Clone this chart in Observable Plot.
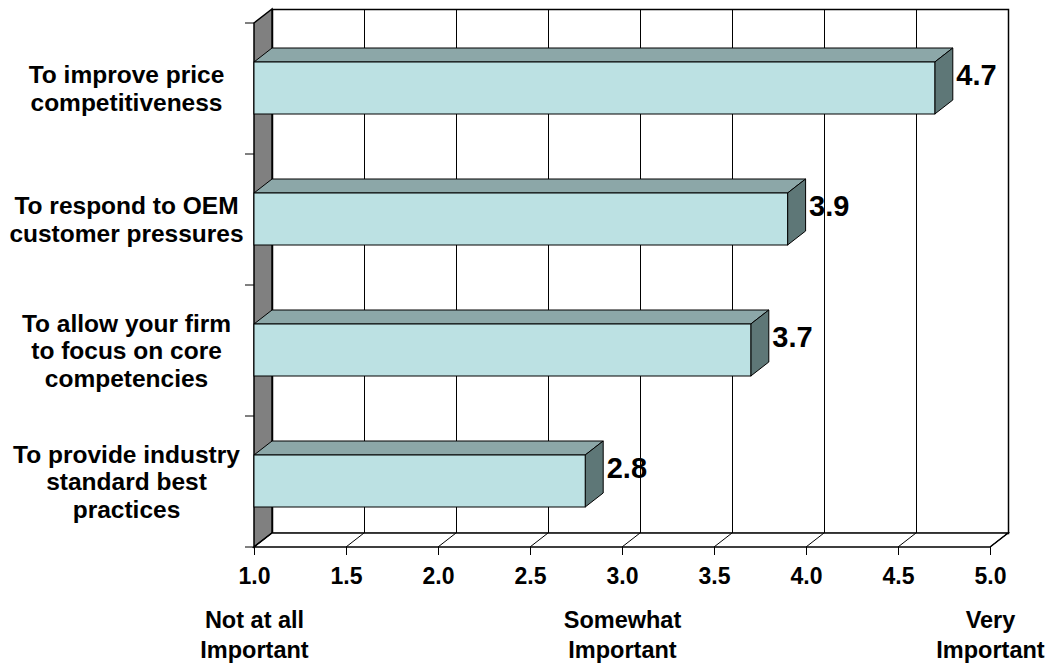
<!DOCTYPE html>
<html><head><meta charset="utf-8">
<script src="https://cdn.jsdelivr.net/npm/d3@7"></script>
<script src="https://cdn.jsdelivr.net/npm/@observablehq/plot@0.6"></script>
<style>
html,body{margin:0;padding:0;background:#fff;}
#chart svg{display:block;}
</style></head>
<body><div id="chart"></div>
<script>
// ---- data ----
const categories = [
  "To improve price\ncompetitiveness",
  "To respond to OEM\ncustomer pressures",
  "To allow your firm\nto focus on core\ncompetencies",
  "To provide industry\nstandard best\npractices"
];
const values = [4.7, 3.9, 3.7, 2.8];
const xTicks = [1.0, 1.5, 2.0, 2.5, 3.0, 3.5, 4.0, 4.5, 5.0];
const scaleAnchors = [1, 3, 5];
const scaleAnchorLabels = ["Not at all\nImportant", "Somewhat\nImportant", "Very\nImportant"];

// ---- style ----
const BASE = 1;
const DX = 18, DY = -14;           // 3-D depth offset
const FONT = '"Liberation Sans", Arial, Helvetica, sans-serif';
const FRONT = "#bce1e3", TOP = "#8ca7a8", SIDE = "#5e7777", WALL = "#808080";

const data = categories.map((c, i) => ({cat: c, value: values[i]}));

// left wall, floor, floor diagonals and y tick marks
function wallAndFloor(index, scales, vals, dim) {
  const {height, marginTop, marginBottom} = dim;
  const x0 = scales.x(xTicks[0]), x1 = scales.x(xTicks[xTicks.length - 1]);
  const yTop = marginTop, yBot = height - marginBottom;
  const g = d3.create("svg:g");
  g.append("path")
    .attr("d", `M${x0},${yTop}L${x0 + DX},${yTop + DY}L${x0 + DX},${yBot + DY}L${x0},${yBot}Z`)
    .attr("fill", WALL).attr("stroke", "#000").attr("stroke-width", 1.5);
  g.append("path")
    .attr("d", `M${x0},${yBot}L${x0 + DX},${yBot + DY}L${x1 + DX},${yBot + DY}L${x1},${yBot}Z`)
    .attr("fill", "#fff").attr("stroke", "#000").attr("stroke-width", 1.5);
  for (const t of xTicks) {
    const x = scales.x(t);
    g.append("line").attr("x1", x).attr("y1", yBot).attr("x2", x + DX).attr("y2", yBot + DY)
      .attr("stroke", "#000").attr("stroke-width", 1);
  }
  const n = categories.length;
  for (let k = 0; k <= n; k++) {
    const y = yTop + (yBot - yTop) * k / n;
    g.append("line").attr("x1", x0 - 9).attr("x2", x0).attr("y1", y).attr("y2", y)
      .attr("stroke", "#000").attr("stroke-width", 1);
  }
  return g.node();
}

// top and side faces of each bar
function barDepth(index, scales, vals, dim) {
  const g = d3.create("svg:g");
  const bw = scales.y.bandwidth();
  for (const d of data) {
    const xa = scales.x(BASE), xb = scales.x(d.value);
    const ya = scales.y(d.cat), yb = ya + bw;
    g.append("path")
      .attr("d", `M${xa},${ya}L${xa + DX},${ya + DY}L${xb + DX},${ya + DY}L${xb},${ya}Z`)
      .attr("fill", TOP).attr("stroke", "#000").attr("stroke-width", 1).attr("stroke-linejoin", "round");
    g.append("path")
      .attr("d", `M${xb},${ya}L${xb + DX},${ya + DY}L${xb + DX},${yb + DY}L${xb},${yb}Z`)
      .attr("fill", SIDE).attr("stroke", "#000").attr("stroke-width", 1).attr("stroke-linejoin", "round");
  }
  return g.node();
}

const chart = Plot.plot({
  width: 1050,
  height: 664,
  marginTop: 23,
  marginBottom: 117,
  marginLeft: 254,
  marginRight: 60,
  style: {fontFamily: FONT, color: "#000", background: "#fff", fontWeight: "bold", fontSize: "23px", overflow: "visible"},
  x: {domain: [1, 5], ticks: xTicks, tickFormat: d3.format(".1f"), tickSize: 8, tickPadding: 12, label: null},
  y: {domain: categories, paddingInner: 0.603, paddingOuter: 0.3015, axis: null, label: null},
  marks: [
    Plot.frame({dx: DX, dy: DY, stroke: "#000", strokeWidth: 1.5, fill: "#fff"}),
    Plot.ruleX(xTicks, {x: d => d, dx: DX, dy: DY, stroke: "#000", strokeWidth: 1}),
    wallAndFloor,
    barDepth,
    Plot.barX(data, {x1: () => BASE, x2: "value", y: "cat", fill: FRONT, stroke: "#000", strokeWidth: 1}),
    Plot.text(data, {x: "value", y: "cat", text: d => d.value.toFixed(1), textAnchor: "start",
      dx: DX + 3, dy: DY + 1, fontSize: 29, fontWeight: "bold", fill: "#000"}),
    Plot.text(categories, {y: d => d, text: d => d, frameAnchor: "left", dx: -128, textAnchor: "middle",
      lineAnchor: "middle", fontSize: 24.5, fontWeight: "bold", lineHeight: 1.14, fill: "#000"}),
    Plot.text(scaleAnchors, {x: d => d, text: (d, i) => scaleAnchorLabels[i], frameAnchor: "bottom", dy: 86,
      textAnchor: "middle", lineAnchor: "middle", fontSize: 23.5, fontWeight: "bold", lineHeight: 1.25, fill: "#000"})
  ]
});
document.getElementById("chart").appendChild(chart);
</script>
</body></html>
